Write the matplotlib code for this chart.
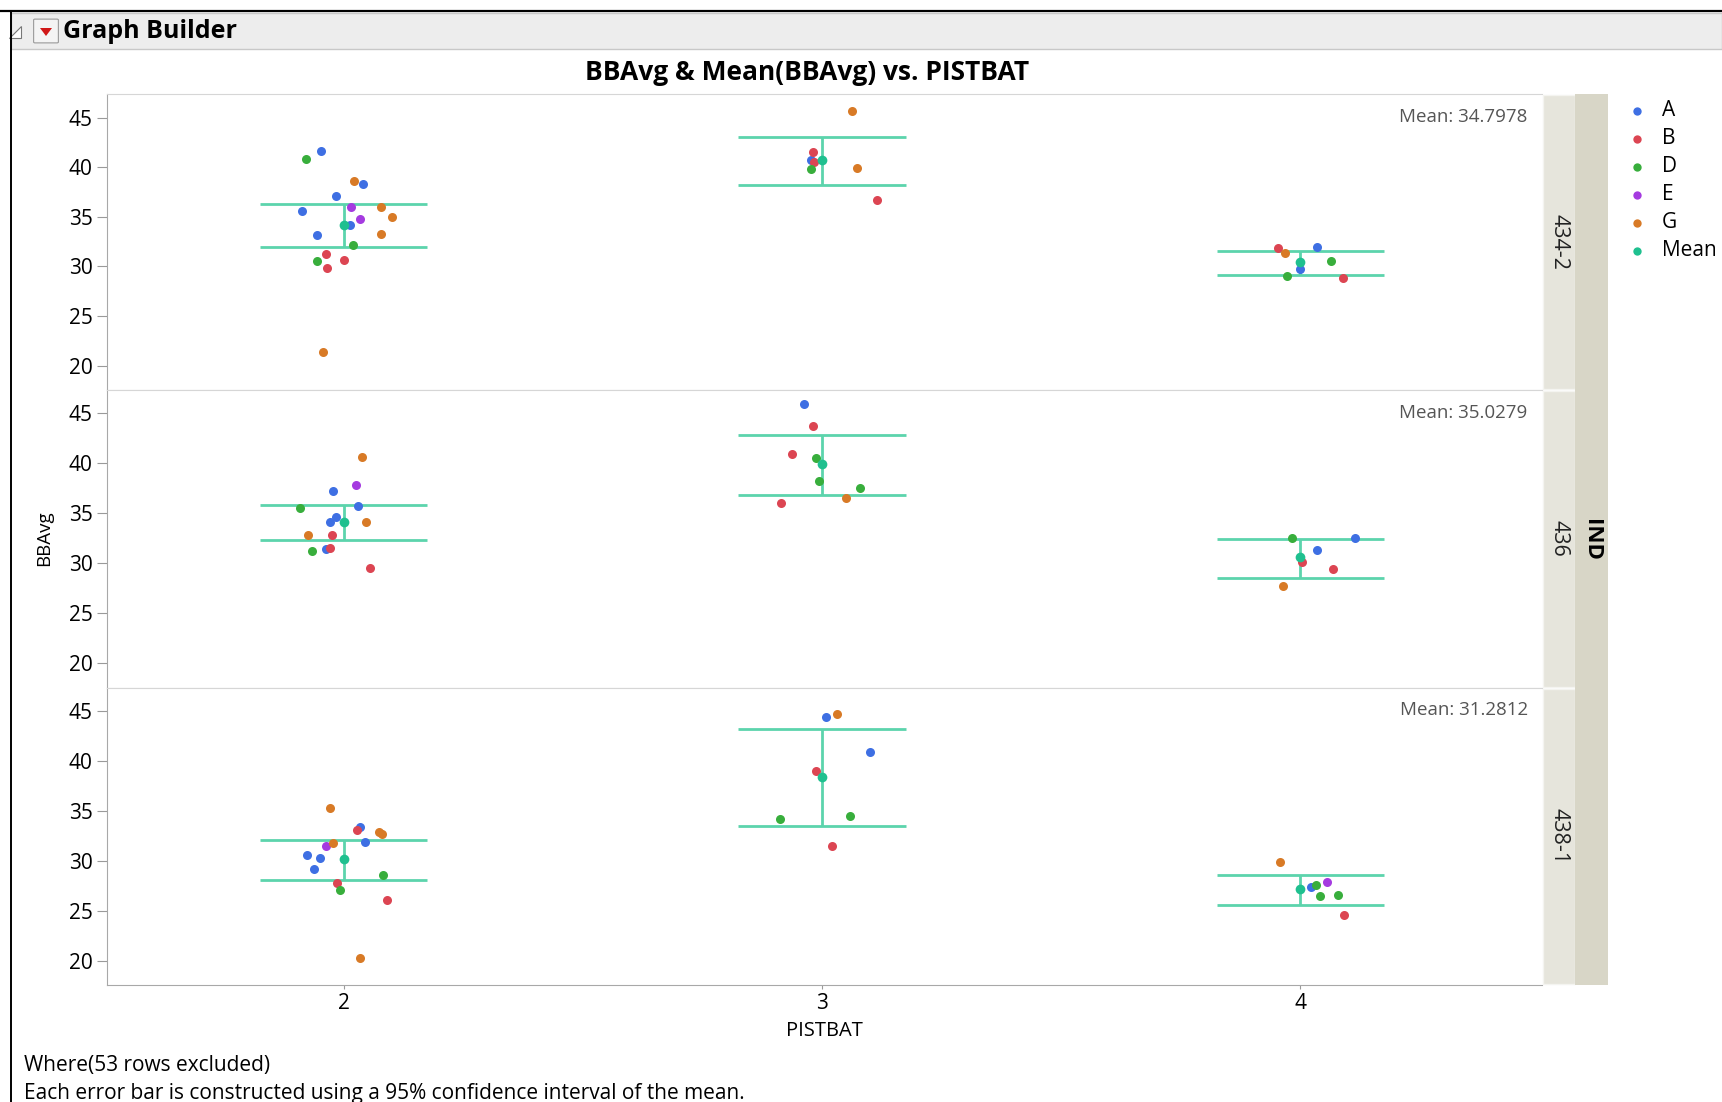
import matplotlib
matplotlib.use('Agg')
import matplotlib.pyplot as plt
from matplotlib.patches import Rectangle, Polygon, FancyBboxPatch
from matplotlib.lines import Line2D

plt.rcParams['font.family'] = ['Open Sans', 'DejaVu Sans']

W, H = 1722, 1102

ind_levels = ['434-2', '436', '438-1']
pist_levels = [2, 3, 4]
group_names = ['A', 'B', 'D', 'E', 'G']
group_colors = ['#3E6FE3', '#DC4552', '#38AE3C', '#A53BE0', '#D87A26']
mean_color = '#1FC08F'
bar_color = '#5CD4AC'

# points per IND panel: (PISTBAT, group, jitter offset, BBAvg)
pts_434_2 = [
    (2, 'A', -0.047, 41.63), (2, 'D', -0.079, 40.79), (2, 'G', 0.021, 38.57),
    (2, 'A', 0.041, 38.33), (2, 'A', -0.016, 37.09), (2, 'E', 0.015, 35.99),
    (2, 'G', 0.077, 36.02), (2, 'A', -0.088, 35.55), (2, 'G', 0.101, 34.98),
    (2, 'E', 0.035, 34.78), (2, 'A', 0.014, 34.17), (2, 'A', -0.055, 33.17),
    (2, 'G', 0.077, 33.24), (2, 'D', 0.019, 32.16), (2, 'B', -0.037, 31.25),
    (2, 'D', -0.056, 30.55), (2, 'B', 0.001, 30.68), (2, 'B', -0.036, 29.84),
    (2, 'G', -0.043, 21.41),
    (3, 'G', 0.063, 45.69), (3, 'B', -0.020, 41.56), (3, 'B', -0.016, 40.55),
    (3, 'A', -0.024, 40.72), (3, 'D', -0.024, 39.84), (3, 'G', 0.072, 39.91),
    (3, 'B', 0.115, 36.69),
    (4, 'B', -0.047, 31.83), (4, 'G', -0.033, 31.32), (4, 'A', 0.034, 31.96),
    (4, 'D', 0.064, 30.58), (4, 'A', 0.000, 29.74), (4, 'D', -0.028, 29.07),
    (4, 'B', 0.088, 28.81),
]
pts_436 = [
    (2, 'G', 0.039, 40.61), (2, 'E', 0.025, 37.82), (2, 'A', -0.023, 37.22),
    (2, 'D', -0.091, 35.47), (2, 'A', 0.030, 35.67), (2, 'A', -0.016, 34.57),
    (2, 'A', -0.029, 34.12), (2, 'G', 0.047, 34.12), (2, 'G', -0.075, 32.78),
    (2, 'B', -0.024, 32.81), (2, 'B', -0.029, 31.48), (2, 'A', -0.038, 31.37),
    (2, 'D', -0.066, 31.17), (2, 'B', 0.055, 29.53),
    (3, 'A', -0.037, 45.95), (3, 'B', -0.020, 43.69), (3, 'B', -0.063, 40.94),
    (3, 'D', -0.012, 40.51), (3, 'D', -0.007, 38.19), (3, 'D', 0.080, 37.49),
    (3, 'G', 0.050, 36.51), (3, 'B', -0.085, 35.98),
    (4, 'D', -0.018, 32.48), (4, 'A', 0.114, 32.48), (4, 'A', 0.035, 31.27),
    (4, 'B', 0.004, 30.10), (4, 'B', 0.068, 29.43), (4, 'G', -0.036, 27.68),
]
pts_438_1 = [
    (2, 'G', -0.029, 35.22), (2, 'A', 0.035, 33.34), (2, 'B', 0.028, 33.04),
    (2, 'G', 0.074, 32.91), (2, 'G', 0.080, 32.63), (2, 'A', 0.045, 31.90),
    (2, 'G', -0.022, 31.80), (2, 'E', -0.037, 31.46), (2, 'A', -0.076, 30.52),
    (2, 'A', -0.050, 30.26), (2, 'A', -0.062, 29.21), (2, 'D', 0.082, 28.58),
    (2, 'B', -0.015, 27.77), (2, 'D', -0.007, 27.03), (2, 'B', 0.091, 26.06),
    (2, 'G', 0.033, 20.25),
    (3, 'G', 0.032, 44.69), (3, 'A', 0.009, 44.42), (3, 'A', 0.101, 40.86),
    (3, 'B', -0.012, 38.98), (3, 'D', 0.058, 34.45), (3, 'D', -0.088, 34.14),
    (3, 'B', 0.021, 31.42),
    (4, 'G', -0.042, 29.85), (4, 'E', 0.056, 27.87), (4, 'D', 0.032, 27.54),
    (4, 'A', 0.022, 27.37), (4, 'D', 0.040, 26.43), (4, 'D', 0.079, 26.53),
    (4, 'B', 0.091, 24.58),
]

# mean and 95% CI per PISTBAT level
mean_434_2 = [34.20, 40.72, 30.48]
lo_434_2 = [31.93, 38.17, 29.17]
hi_434_2 = [36.32, 43.07, 31.56]
mean_436 = [34.16, 39.90, 30.57]
lo_436 = [32.31, 36.81, 28.52]
hi_436 = [35.84, 42.78, 32.45]
mean_438_1 = [30.12, 38.41, 27.13]
lo_438_1 = [28.10, 33.51, 25.59]
hi_438_1 = [32.03, 43.15, 28.55]

panel_mean_text = ['Mean: 34.7978', 'Mean: 35.0279', 'Mean: 31.2812']

panel_pts = [pts_434_2, pts_436, pts_438_1]
panel_mean = [mean_434_2, mean_436, mean_438_1]
panel_lo = [lo_434_2, lo_436, lo_438_1]
panel_hi = [hi_434_2, hi_436, hi_438_1]


def fx(x):
    return x / W


def fy(y):
    return 1 - y / H


fig = plt.figure(figsize=(W / 100, H / 100), dpi=100)
fig.patch.set_facecolor('white')

# window chrome
fig.patches.append(Rectangle((fx(11), fy(49)), fx(W) - fx(11), fy(13) - fy(49),
                             transform=fig.transFigure, facecolor='#EDEDED',
                             edgecolor='#C8C8C8', lw=1))
fig.add_artist(Line2D([fx(0), fx(W)], [fy(11), fy(11)], color='black', lw=1.6,
                      transform=fig.transFigure))
fig.add_artist(Line2D([fx(11), fx(11)], [fy(11), fy(H)], color='black', lw=1.4,
                      transform=fig.transFigure))
fig.patches.append(Polygon([(fx(9), fy(38)), (fx(21), fy(38)), (fx(21), fy(26))],
                           closed=True, transform=fig.transFigure,
                           facecolor='white', edgecolor='#777777', lw=0.8))
fig.patches.append(FancyBboxPatch((fx(35), fy(42)), fx(22), fy(20) - fy(42),
                                  boxstyle='round,pad=0.0008',
                                  transform=fig.transFigure, facecolor='#F4F4F4',
                                  edgecolor='#9A9A9A', lw=0.8))
fig.patches.append(Polygon([(fx(40), fy(28)), (fx(52), fy(28)), (fx(46), fy(36))],
                           closed=True, transform=fig.transFigure,
                           facecolor='#D01818', edgecolor='none'))
fig.text(fx(63), fy(31), 'Graph Builder', fontsize=18, fontweight='bold',
         ha='left', va='center')

fig.text(fx(807), fy(72), 'BBAvg & Mean(BBAvg) vs. PISTBAT', fontsize=19,
         fontweight='bold', ha='center', va='center')

# panels
left, right = 106.5, 1542
edges = [94.4, 390, 687.5, 985]
axes = []
for i in range(3):
    top, bot = edges[i], edges[i + 1]
    ax = fig.add_axes([fx(left), fy(bot), fx(right) - fx(left), fy(top) - fy(bot)])
    axes.append(ax)

    pts = panel_pts[i]
    for g, c in zip(group_names, group_colors):
        xs = [p + j for p, gg, j, v in pts if gg == g]
        ys = [v for p, gg, j, v in pts if gg == g]
        ax.plot(xs, ys, 'o', color=c, markersize=6.5, markeredgewidth=0, zorder=3)

    for k, p in enumerate(pist_levels):
        lo, hi = panel_lo[i][k], panel_hi[i][k]
        ax.hlines([lo, hi], p - 0.175, p + 0.175, color=bar_color, lw=2, zorder=2)
        ax.vlines(p, lo, hi, color=bar_color, lw=2, zorder=2)
    ax.plot(pist_levels, panel_mean[i], 'o', color=mean_color, markersize=7,
            markeredgewidth=0, zorder=4)

    ax.text(0.990, 0.953, panel_mean_text[i], transform=ax.transAxes, ha='right',
            va='top', fontsize=13.5, color='#555555')

    ax.set_xlim(1.504, 4.505)
    ax.set_ylim(17.55, 47.33)
    ax.set_yticks([20, 25, 30, 35, 40, 45])
    ax.set_xticks(pist_levels)
    ax.tick_params(axis='y', labelsize=15, length=7, color='#9A9A9A', pad=3)
    ax.spines['right'].set_visible(False)
    ax.spines['left'].set_color('#A8A8A8')
    ax.spines['top'].set_color('#D6D6D6')
    ax.spines['bottom'].set_color('#D6D6D6')
    if i < 2:
        ax.tick_params(axis='x', length=0, labelbottom=False)
    else:
        ax.spines['bottom'].set_color('#A8A8A8')
        ax.tick_params(axis='x', labelsize=15, length=3, color='#9A9A9A', pad=3)
        ax.set_xlabel('PISTBAT', fontsize=14.5, labelpad=5)

    # facet strip
    fig.patches.append(Rectangle((fx(1543), fy(bot - 1)), fx(1575) - fx(1543),
                                 fy(top + 1) - fy(bot - 1), transform=fig.transFigure,
                                 facecolor='#E6E5DC', edgecolor='#F4F4F0', lw=1))
    fig.text(fx(1559), fy((top + bot) / 2), ind_levels[i], rotation=-90,
             fontsize=15.5, ha='center', va='center', color='#222222')

fig.patches.append(Rectangle((fx(1575), fy(985)), fx(1608) - fx(1575),
                             fy(94.4) - fy(985), transform=fig.transFigure,
                             facecolor='#D8D6C7', edgecolor='none'))
fig.text(fx(1591), fy(540), 'IND', rotation=-90, fontsize=16, fontweight='bold',
         ha='center', va='center')

fig.text(fx(44), fy(538), 'BBAvg', rotation=90, fontsize=13.5, ha='center',
         va='center')

# legend
leg_labels = group_names + ['Mean']
leg_colors = group_colors + [mean_color]
for k, (lab, c) in enumerate(zip(leg_labels, leg_colors)):
    y = 110.7 + 28 * k
    fig.add_artist(Line2D([fx(1637)], [fy(y)], marker='o', color=c, markersize=6,
                          markeredgewidth=0, transform=fig.transFigure))
    fig.text(fx(1662), fy(y), lab, fontsize=15, ha='left', va='center')

fig.text(fx(24), fy(1065), 'Where(53 rows excluded)', fontsize=15, ha='left',
         va='center')
fig.text(fx(24), fy(1094), 'Each error bar is constructed using a 95% confidence '
         'interval of the mean.', fontsize=15, ha='left', va='center')

fig.savefig('out.png', dpi=100)
